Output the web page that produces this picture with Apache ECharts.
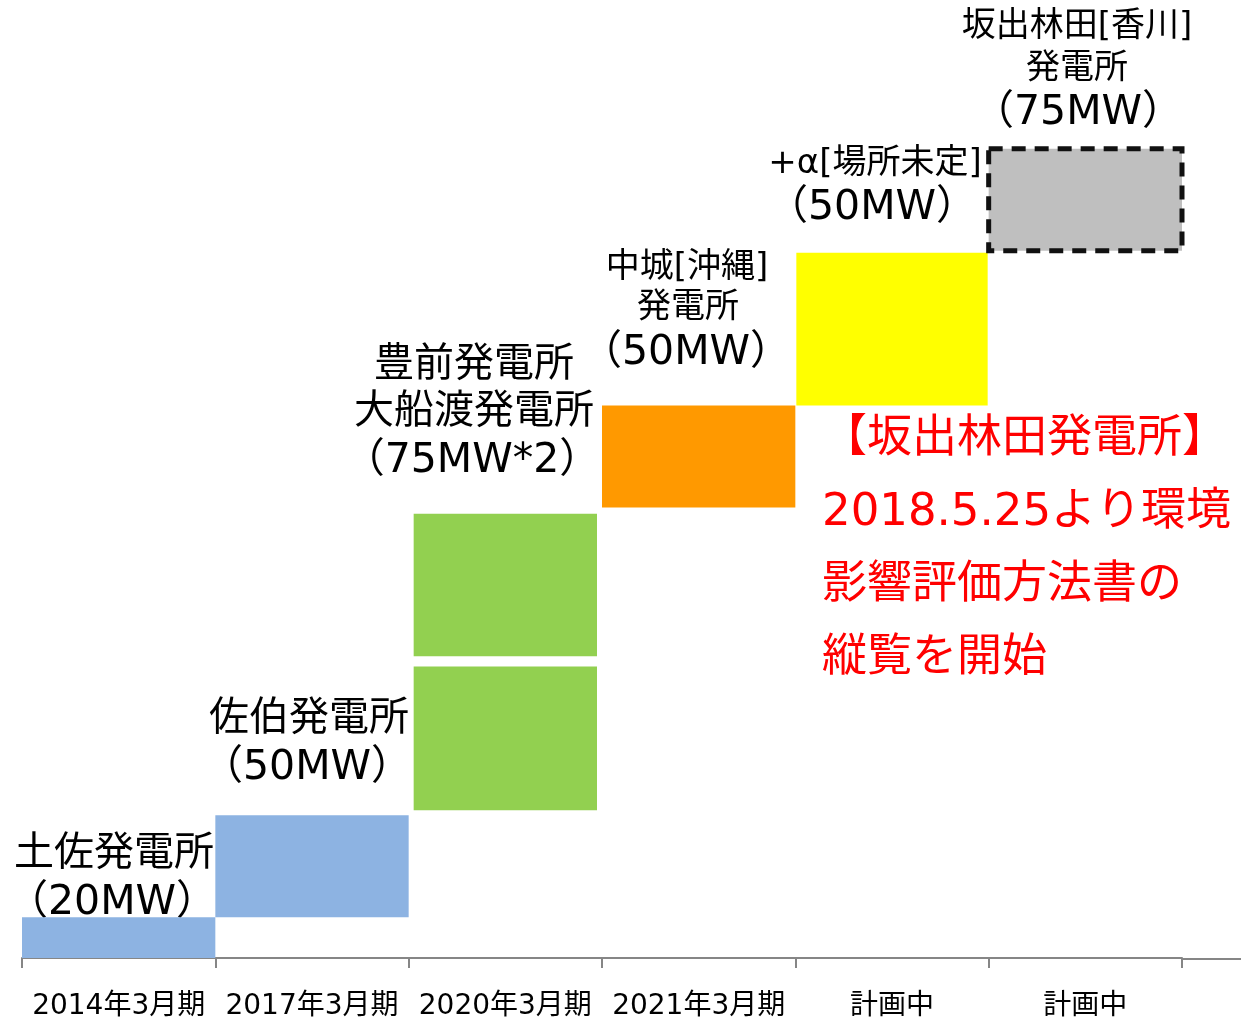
<!DOCTYPE html>
<html>
<head>
<meta charset="utf-8">
<script src="https://cdn.jsdelivr.net/npm/echarts@6/dist/echarts.min.js"></script>
<style>
  html, body { margin: 0; padding: 0; background: #fff; }
  #main { width: 1241px; height: 1021px; }
</style>
</head>
<body>
<div id="main"></div>
<script>
// 期ごとのカテゴリ
const categories = ['2014年3月期', '2017年3月期', '2020年3月期', '2021年3月期', '計画中', '計画中'];

// 発電所ごとの積み上げ位置 (MW)
const plantNames = ['土佐', '佐伯', '豊前', '大船渡', '中城', '+α', '坂出林田'];
const plantCat = [0, 1, 2, 2, 3, 4, 5];
const plantLow = [0, 20, 72.5, 148, 221, 271, 347];
const plantHigh = [20, 70, 143, 218, 271, 346, 397];

// ラベル文字 (行ごと)
const labelLines = [
  ['土佐発電所', '（20MW）'],
  ['佐伯発電所', '（50MW）'],
  ['豊前発電所', '大船渡発電所', '（75MW*2）'],
  ['中城[沖縄]', '発電所', '（50MW）'],
  ['+α[場所未定]', '（50MW）'],
  ['坂出林田[香川]', '発電所', '（75MW）']
];
const noteLines = ['【坂出林田発電所】', '2018.5.25より環境', '影響評価方法書の', '縦覧を開始'];

const FONT = "'DejaVu Sans', 'Noto Sans CJK JP', sans-serif";
const colors = ['#8DB3E2', '#8DB3E2', '#92D050', '#92D050', '#FF9900', '#FFFF00', '#BFBFBF'];
const insets = [0, 0, 5, 5, 0, 1, 0];

const blockData = plantNames.map((n, i) => ({
  name: n,
  value: [plantCat[i], plantLow[i], plantHigh[i], i]
}));

function renderBlock(params, api) {
  const cat = api.value(0);
  const idx = api.value(3);
  const lo = api.coord([cat, api.value(1)]);
  const hi = api.coord([cat, api.value(2)]);
  const w = api.size([1, 0])[0];
  const ins = insets[idx];
  const dashed = idx === 6;
  return {
    type: 'rect',
    shape: { x: lo[0] - w / 2 + ins, y: hi[1], width: w - ins * 2, height: lo[1] - hi[1] },
    style: dashed
      ? { fill: colors[idx], stroke: '#111', lineWidth: 5, lineDash: [14, 9] }
      : { fill: colors[idx] }
  };
}

// ラベルの配置 [中心x, 中心y, 文字サイズ]
const labelPos = [
  [[114, 855, 40], [112, 903, 41]],
  [[309, 720, 40], [307, 768, 41]],
  [[474, 366, 40], [474, 413, 40], [472, 461, 41]],
  [[687, 268, 34], [688, 308, 34], [686, 353, 41]],
  [[875, 164, 34], [872, 208, 41]],
  [[1077, 27, 34], [1077, 69, 34], [1078, 113, 41]]
];

const graphics = [];
labelLines.forEach((lines, i) => {
  lines.forEach((t, j) => {
    const p = labelPos[i][j];
    graphics.push({
      type: 'text', x: p[0], y: p[1],
      style: { text: t, fill: '#000', font: p[2] + 'px ' + FONT, textAlign: 'center', textVerticalAlign: 'middle' }
    });
  });
});
noteLines.forEach((t, j) => {
  graphics.push({
    type: 'text', x: 822, y: 440 + j * 73,
    style: { text: t, fill: '#FF0000', font: '45px ' + FONT, textAlign: 'left', textVerticalAlign: 'middle' }
  });
});
// 軸線の右側延長
graphics.push({
  type: 'line', shape: { x1: 1182, y1: 959, x2: 1241, y2: 959 },
  style: { stroke: '#868686', lineWidth: 2 }
});

const chart = echarts.init(document.getElementById('main'));
chart.setOption({
  animation: false,
  grid: { left: 22, right: 59, top: 0, bottom: 62 },
  xAxis: {
    type: 'category',
    data: categories,
    boundaryGap: true,
    axisLine: { lineStyle: { color: '#868686', width: 2 } },
    axisTick: { show: true, alignWithLabel: false, length: 10, lineStyle: { color: '#868686', width: 2 } },
    axisLabel: { color: '#000', fontSize: 28, fontFamily: FONT, margin: 35, interval: 0 }
  },
  yAxis: { type: 'value', min: 0, max: 470, show: false, splitLine: { show: false } },
  series: [{
    type: 'custom',
    renderItem: renderBlock,
    encode: { x: 0, y: [1, 2] },
    data: blockData
  }],
  graphic: graphics
});
</script>
</body>
</html>
